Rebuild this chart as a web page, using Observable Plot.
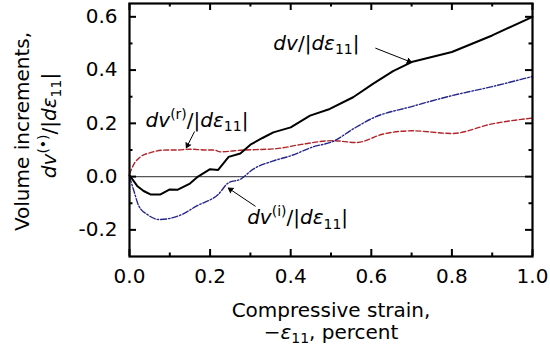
<!DOCTYPE html>
<html><head><meta charset="utf-8">
<script src="https://cdn.jsdelivr.net/npm/d3@7"></script>
<script src="https://cdn.jsdelivr.net/npm/@observablehq/plot@0.6"></script>
<style>body{margin:0;background:#fff} svg text{font-family:"DejaVu Sans";}</style>
</head><body><div id="chart"></div>
<script>
// ---- data ----
const totalX = [0, 0.019, 0.035, 0.052, 0.077, 0.10, 0.12, 0.15, 0.17, 0.20, 0.22, 0.246, 0.275, 0.30, 0.33, 0.357, 0.40, 0.448, 0.497, 0.555, 0.604, 0.654, 0.70, 0.80, 0.90, 1.0];
const totalY = [0.005, -0.035, -0.054, -0.067, -0.067, -0.048, -0.049, -0.026, 0.0, 0.028, 0.025, 0.074, 0.087, 0.12, 0.145, 0.166, 0.185, 0.229, 0.254, 0.298, 0.348, 0.396, 0.43, 0.468, 0.53, 0.60];
const revX = [0, 0.011, 0.027, 0.052, 0.093, 0.118, 0.15, 0.19, 0.21, 0.225, 0.275, 0.365, 0.423, 0.505, 0.563, 0.63, 0.70, 0.80, 0.90, 1.0];
const revY = [0.01, 0.047, 0.074, 0.09, 0.10, 0.10, 0.103, 0.10, 0.10, 0.093, 0.099, 0.105, 0.12, 0.135, 0.128, 0.16, 0.172, 0.162, 0.198, 0.22];
const irrX = [0, 0.011, 0.023, 0.044, 0.073, 0.126, 0.167, 0.22, 0.246, 0.275, 0.307, 0.357, 0.40, 0.456, 0.505, 0.555, 0.604, 0.70, 0.80, 0.90, 1.0];
const irrY = [0, -0.054, -0.11, -0.142, -0.161, -0.145, -0.11, -0.067, -0.023, -0.01, 0.028, 0.059, 0.078, 0.112, 0.132, 0.179, 0.22, 0.263, 0.304, 0.338, 0.376];

const xMajor = [0, 0.2, 0.4, 0.6, 0.8, 1.0];
const xMinor = [0.1, 0.3, 0.5, 0.7, 0.9];
const yMajor = [-0.2, 0, 0.2, 0.4, 0.6];
const yMinor = [-0.1, 0.1, 0.3, 0.5];

// annotations: label, text anchor point, arrow tail, arrow head (data units)
const annoLabels = ["$dv/|dε_{11}|$", "$dv^{(r)}/|dε_{11}|$", "$dv^{(i)}/|dε_{11}|$"];
const annoTextX = [0.357, 0.04, 0.292];
const annoTextY = [0.50, 0.212, -0.155];
const annoTailX = [0.611, 0.161, 0.312];
const annoTailY = [0.482, 0.168, -0.111];
const annoHeadX = [0.70, 0.141, 0.245];
const annoHeadY = [0.429, 0.108, -0.043];

const xLabelLines = ["Compressive strain,", "$−ε_{11}$, percent"];
const yLabelLines = ["Volume increments,", "$dv^{(•)}/|dε_{11}|$"];

// ---- build tables ----
const total = totalX.map((x, i) => ({x, y: totalY[i]}));
const rev = revX.map((x, i) => ({x, y: revY[i]}));
const irr = irrX.map((x, i) => ({x, y: irrY[i]}));
const annos = annoLabels.map((t, i) => ({t, tx: annoTextX[i], ty: annoTextY[i], x1: annoTailX[i], y1: annoTailY[i], x2: annoHeadX[i], y2: annoHeadY[i]}));

const FS = 20;
const W = 550, H = 350, mL = 129, mR = 18, mT = 3, mB = 94;
const fH = H - mT - mB, fW = W - mL - mR;
const maj = 7, mnr = 3.5;
const ff = "DejaVu Sans";

const chart = Plot.plot({
  width: W, height: H,
  marginLeft: mL, marginRight: mR, marginTop: mT, marginBottom: mB,
  style: {fontFamily: ff, fontSize: FS + "px", color: "black", background: "white"},
  x: {domain: [0, 1], label: null},
  y: {domain: [-0.3, 0.65], label: null},
  marks: [
    Plot.axisX(xMajor, {tickSize: 0, tickPadding: 12, tickFormat: d => d.toFixed(1), label: null, fontSize: FS, fontFamily: ff}),
    Plot.axisY(yMajor, {tickSize: 0, tickPadding: 12, tickFormat: d => d.toFixed(1), label: null, fontSize: FS, fontFamily: ff}),
    Plot.ruleY([0], {stroke: "#555", strokeWidth: 1.2}),
    Plot.line(rev, {x: "x", y: "y", stroke: "#b3242a", strokeWidth: 1.4, strokeDasharray: "5,2.5", curve: "monotone-x"}),
    Plot.line(irr, {x: "x", y: "y", stroke: "#25258a", strokeWidth: 1.4, strokeDasharray: "6,2,1.5,2", curve: "monotone-x"}),
    Plot.line(total, {x: "x", y: "y", stroke: "black", strokeWidth: 2}),
    Plot.arrow(annos, {x1: "x1", y1: "y1", x2: "x2", y2: "y2", stroke: "black", strokeWidth: 1, headLength: 8}),
    Plot.text(annos, {x: "tx", y: "ty", text: "t", textAnchor: "start", fill: "black", fontSize: FS, fontFamily: ff}),
    // ticks (inward, all four sides)
    Plot.ruleX(xMajor, {x: d => d, insetTop: fH - maj, strokeWidth: 2}),
    Plot.ruleX(xMajor, {x: d => d, insetBottom: fH - maj, strokeWidth: 2}),
    Plot.ruleX(xMinor, {x: d => d, insetTop: fH - mnr, strokeWidth: 2}),
    Plot.ruleX(xMinor, {x: d => d, insetBottom: fH - mnr, strokeWidth: 2}),
    Plot.ruleY(yMajor, {y: d => d, insetRight: fW - maj, strokeWidth: 2}),
    Plot.ruleY(yMajor, {y: d => d, insetLeft: fW - maj, strokeWidth: 2}),
    Plot.ruleY(yMinor, {y: d => d, insetRight: fW - mnr, strokeWidth: 2}),
    Plot.ruleY(yMinor, {y: d => d, insetLeft: fW - mnr, strokeWidth: 2}),
    Plot.frame({stroke: "black", strokeWidth: 2.2}),
    // axis labels
    Plot.text([xLabelLines[0]], {frameAnchor: "bottom", lineAnchor: "middle", text: d => d, dy: 54, fill: "black", fontSize: FS, fontFamily: ff}),
    Plot.text([xLabelLines[1]], {frameAnchor: "bottom", lineAnchor: "middle", text: d => d, dy: 76, fill: "black", fontSize: FS, fontFamily: ff}),
    Plot.text(yLabelLines, {frameAnchor: "left", text: d => d, fill: "black", fontSize: FS, fontFamily: ff})
  ]
});
document.getElementById("chart").appendChild(chart);

// filled arrowheads like the reference
d3.select(chart).selectAll('g[aria-label="arrow"] path').attr("fill", "black");

// rotate the y-axis title lines (vertical, centred on the frame)
const yLabelX = [23, 50];
d3.select(chart).selectAll("text").each(function () {
  const k = yLabelLines.indexOf(this.textContent);
  if (k >= 0) {
    const cy = mT + fH / 2 + (k === 0 ? 2 : -4);
    this.removeAttribute("x"); this.removeAttribute("y");
    this.setAttribute("transform", `translate(${yLabelX[k]},${cy}) rotate(-90)`);
    this.setAttribute("text-anchor", "middle");
    this.setAttribute("dy", "0.32em");
    if (this.parentNode && this.parentNode.getAttribute("transform")) this.parentNode.removeAttribute("transform");
  }
});

// ---- simple mathtext: $...$ sections, _{} subscript, ^{} superscript, italic letters ----
function renderMath(el) {
  const raw = el.textContent;
  const runs = [];
  let inMath = false, i = 0;
  const push = (text, italic, kind) => {
    const last = runs[runs.length - 1];
    if (last && last.italic === italic && last.kind === kind) last.text += text;
    else runs.push({text, italic, kind});
  };
  while (i < raw.length) {
    const c = raw[i];
    if (c === "$") { inMath = !inMath; i++; continue; }
    if (inMath && (c === "_" || c === "^") && raw[i + 1] === "{") {
      const end = raw.indexOf("}", i);
      push(raw.slice(i + 2, end), false, c === "_" ? "sub" : "sup");
      i = end + 1; continue;
    }
    const italic = inMath && /[A-Za-zα-ω]/.test(c);
    push(c, italic, "base");
    i++;
  }
  el.textContent = "";
  let cur = 0;
  for (const r of runs) {
    const want = r.kind === "sub" ? 0.22 * FS : r.kind === "sup" ? -0.4 * FS : 0;
    const t = d3.select(el).append("tspan").text(r.text);
    if (want !== cur) t.attr("dy", want - cur);
    cur = want;
    if (r.italic) t.attr("font-style", "italic");
    if (r.kind !== "base") t.attr("font-size", Math.round(FS * 0.7));
  }
}
d3.select(chart).selectAll("text").each(function () {
  if (this.textContent.includes("$")) renderMath(this);
});
</script></body></html>
